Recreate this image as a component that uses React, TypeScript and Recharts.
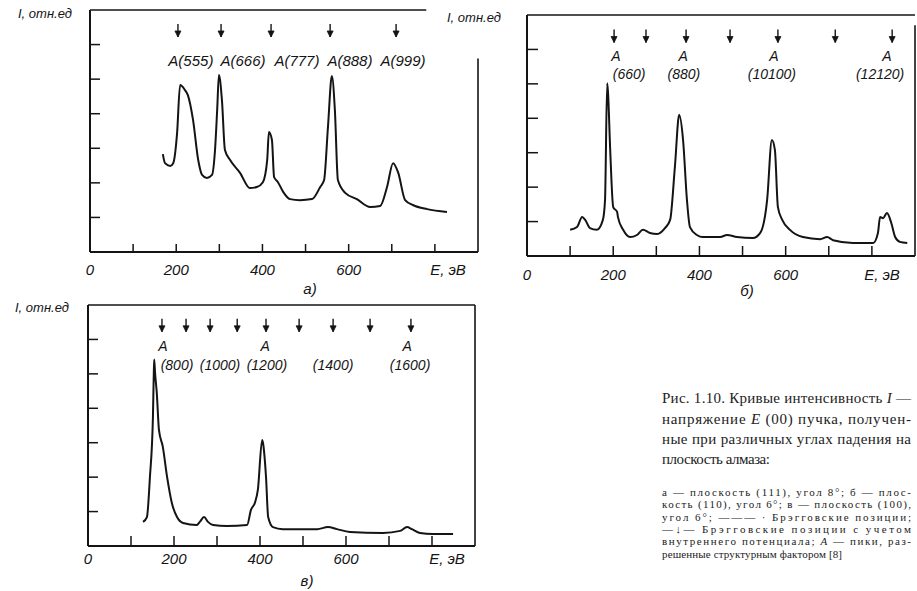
import React from 'react';
import { LineChart, Line, XAxis, YAxis, ReferenceLine, ReferenceDot } from 'recharts';

// ---------- Panel а: plane (111), angle 8° ----------
const aEnergy = [169,174,186,193,202,209,220,227,239,251,260,271,283,290,295,299,306,313,325,348,371,387,401,411,415,422,427,436,448,464,487,515,534,543,552,561,568,575,592,619,650,673,689,703,715,731,749,782,828];
const aIntensity = [2.83,2.57,2.49,2.57,3.44,4.83,4.69,4.54,3.82,2.66,2.23,2.14,2.23,2.95,4.11,5.12,4.40,2.95,2.66,2.29,1.85,1.88,2.02,2.66,3.47,3.24,2.17,2.02,1.74,1.53,1.50,1.53,1.88,2.08,3.62,5.09,4.11,2.08,1.71,1.53,1.30,1.33,1.88,2.57,2.29,1.50,1.36,1.24,1.16];
const aArrows = [204, 304, 420, 557, 710];
const aLabels = ['A(555)', 'A(666)', 'A(777)', 'A(888)', 'A(999)'];
const aLabelE = [234, 355, 480, 603, 726];

// ---------- Panel б: plane (110), angle 6° ----------
const bEnergy = [100,116,128,135,146,162,176,181,186,188,193,200,209,211,223,239,255,269,285,302,320,332,343,353,362,371,378,394,408,448,464,487,524,541,557,568,575,582,592,610,640,680,696,710,756,803,814,819,826,835,845,854,865,882];
const bIntensity = [0.76,0.84,1.13,1.05,0.81,0.76,1.05,1.63,5.02,4.73,3.08,1.42,1.28,1.13,0.76,0.55,0.61,0.76,0.67,0.64,0.81,1.05,2.58,4.10,3.37,1.63,0.84,0.61,0.55,0.55,0.61,0.55,0.52,0.67,1.63,3.37,3.08,1.42,1.05,0.76,0.55,0.49,0.55,0.46,0.38,0.38,0.67,1.13,1.10,1.25,0.96,0.55,0.41,0.38];
const bArrows = [202, 276, 369, 471, 582, 715, 847];
const bAE = [206, 362, 573, 835];
const bHkl = ['(660)', '(880)', '(10100)', '(12120)'];
const bHklE = [237, 364, 568, 819];

// ---------- Panel в: plane (100), angle 6° ----------
const cEnergy = [128,137,144,151,153,154,156,160,165,174,184,195,207,221,253,260,270,279,291,323,370,379,388,395,405,407,414,419,430,453,533,558,579,609,686,726,742,753,772,802,849];
const cIntensity = [0.70,0.84,2.00,3.75,5.02,5.42,5.02,4.44,3.37,2.88,2.00,1.25,0.84,0.67,0.61,0.70,0.84,0.70,0.61,0.58,0.61,1.05,1.25,1.63,3.08,2.99,2.00,0.84,0.55,0.49,0.49,0.55,0.49,0.41,0.38,0.44,0.55,0.49,0.38,0.35,0.35];
const cArrows = [172, 228, 284, 347, 414, 491, 570, 656, 751];
const cAE = [174, 412, 742];
const cHkl = ['(800)', '(1000)', '(1200)', '(1400)', '(1600)'];
const cHklE = [207, 307, 416, 570, 749];

const xTicks = [0, 100, 200, 300, 400, 500, 600, 700, 800];
const xTickText: Record<number, string> = { 0: '0', 200: '200', 400: '400', 600: '600' };
const yTicks = [1, 2, 3, 4, 5, 6];

const INK = '#141414';
const LBL_FONT = '"Liberation Sans", Arial, sans-serif';
const SERIF = '"Liberation Serif", "DejaVu Serif", serif';

const toData = (e: number[], i: number[]) => e.map((v, k) => ({ E: v, I: i[k] }));

const makeXTick = (len: number, labelDy: number) => (props: any) => {
  const { x, y, payload } = props;
  const v = payload.value;
  const t = xTickText[v];
  return (
    <g>
      {v !== 0 && <line x1={x} x2={x} y1={y} y2={y - len} stroke={INK} strokeWidth={1.5} />}
      {t !== undefined && (
        <text x={x} y={y + labelDy} textAnchor="middle" fontFamily={LBL_FONT} fontStyle="italic" fontSize={15} fill={INK}>
          {t}
        </text>
      )}
    </g>
  );
};

const makeYTick = (len: number) => (props: any) => {
  const { x, y } = props;
  return <line x1={x} x2={x + len} y1={y} y2={y} stroke={INK} strokeWidth={1.5} />;
};

const Arrow = (props: any) => {
  const { cx, cy } = props;
  if (cx == null || cy == null) return <g />;
  return (
    <g>
      <line x1={cx} x2={cx} y1={cy - 13} y2={cy} stroke={INK} strokeWidth={1.4} />
      <path d={`M${cx - 3},${cy - 6} L${cx},${cy} L${cx + 3},${cy - 6} Z`} fill={INK} stroke={INK} strokeWidth={0.8} />
    </g>
  );
};

const textShape = (label: string, size: number) => (props: any) => {
  const { cx, cy } = props;
  if (cx == null || cy == null) return <g />;
  return (
    <text x={cx} y={cy} textAnchor="middle" dominantBaseline="central" fontFamily={LBL_FONT} fontStyle="italic" fontSize={size} fill={INK}>
      {label}
    </text>
  );
};

type PanelProps = {
  left: number;
  top: number;
  width: number;
  height: number;
  margin: { top: number; right: number; left: number; bottom: number };
  data: { E: number; I: number }[];
  xTickLen: number;
  yTickLen: number;
  labelDy: number;
  children?: React.ReactNode;
};

function Panel({ left, top, width, height, margin, data, xTickLen, yTickLen, labelDy, children }: PanelProps) {
  return (
    <div style={{ position: 'absolute', left, top, width, height }}>
      <LineChart width={width} height={height} margin={margin}>
        <XAxis
          type="number"
          dataKey="E"
          domain={[0, 900]}
          ticks={xTicks}
          interval={0}
          allowDataOverflow
          height={30}
          tickSize={0}
          tickMargin={0}
          tickLine={false}
          axisLine={{ stroke: INK, strokeWidth: 2 }}
          tick={makeXTick(xTickLen, labelDy)}
        />
        <YAxis
          type="number"
          domain={[0, 7]}
          ticks={yTicks}
          interval={0}
          allowDataOverflow
          width={10}
          tickSize={0}
          tickMargin={0}
          tickLine={false}
          axisLine={{ stroke: INK, strokeWidth: 2 }}
          tick={makeYTick(yTickLen)}
        />
        {children}
        <Line
          data={data}
          dataKey="I"
          type="monotone"
          stroke={INK}
          strokeWidth={2}
          dot={false}
          isAnimationActive={false}
        />
      </LineChart>
    </div>
  );
}

const seg = (x1: number, y1: number, x2: number, y2: number, key: string) => (
  <ReferenceLine
    key={key}
    segment={[{ x: x1, y: y1 }, { x: x2, y: y2 }]}
    stroke={INK}
    strokeWidth={1.6}
    ifOverflow="visible"
  />
);

function Caption() {
  const big = { fontFamily: SERIF, fontSize: 15, fill: '#222' };
  const small = { fontFamily: SERIF, fontSize: 11, fill: '#222' };
  const x0 = 662;
  const w = 249;
  return (
    <svg width={917} height={591} style={{ position: 'absolute', left: 0, top: 0, pointerEvents: 'none' }}>
      {/* axis captions */}
      <text x={18} y={18} fontFamily={LBL_FONT} fontStyle="italic" fontSize={13} fill={INK}>I, отн.ед</text>
      <text x={447} y={22} fontFamily={LBL_FONT} fontStyle="italic" fontSize={13} fill={INK}>I, отн.ед</text>
      <text x={15} y={312} fontFamily={LBL_FONT} fontStyle="italic" fontSize={13} fill={INK}>I, отн.ед</text>
      <text x={448} y={275} textAnchor="middle" fontFamily={LBL_FONT} fontStyle="italic" fontSize={15} fill={INK}>E, эВ</text>
      <text x={882} y={280} textAnchor="middle" fontFamily={LBL_FONT} fontStyle="italic" fontSize={15} fill={INK}>E, эВ</text>
      <text x={447} y={564} textAnchor="middle" fontFamily={LBL_FONT} fontStyle="italic" fontSize={15} fill={INK}>E, эВ</text>
      <text x={310} y={294} textAnchor="middle" fontFamily={LBL_FONT} fontStyle="italic" fontSize={15} fill={INK}>а)</text>
      <text x={747} y={296} textAnchor="middle" fontFamily={LBL_FONT} fontStyle="italic" fontSize={15} fill={INK}>б)</text>
      <text x={307} y={586} textAnchor="middle" fontFamily={LBL_FONT} fontStyle="italic" fontSize={15} fill={INK}>в)</text>

      {/* figure caption */}
      <text x={x0} y={403} {...big} textLength={w} lengthAdjust="spacing">
        Рис. 1.10. Кривые интенсивность <tspan fontStyle="italic">I</tspan> —
      </text>
      <text x={x0} y={424} {...big} textLength={w} lengthAdjust="spacing">
        напряжение <tspan fontStyle="italic">E</tspan> (00)  пучка, получен-
      </text>
      <text x={x0} y={444} {...big} textLength={w} lengthAdjust="spacing">
        ные при различных углах падения на
      </text>
      <text x={x0} y={464} {...big} textLength={108} lengthAdjust="spacing">
        плоскость алмаза:
      </text>

      <text x={x0} y={496} {...small} textLength={w} lengthAdjust="spacing">
        а — плоскость (111), угол 8°; б — плос-
      </text>
      <text x={x0} y={508} {...small} textLength={w} lengthAdjust="spacing">
        кость (110), угол 6°; в — плоскость (100),
      </text>
      <text x={x0} y={521} {...small} textLength={w} lengthAdjust="spacing">
        угол 6°; ——— · Брэгговские позиции;
      </text>
      <text x={x0} y={533} {...small} textLength={w} lengthAdjust="spacing">
        —↓— Брэгговские позиции с учетом
      </text>
      <text x={x0} y={545} {...small} textLength={w} lengthAdjust="spacing">
        внутреннего потенциала; <tspan fontStyle="italic">A</tspan> — пики, раз-
      </text>
      <text x={x0} y={558} {...small} textLength={180} lengthAdjust="spacing">
        решенные структурным фактором [8]
      </text>
    </svg>
  );
}

export default function App() {
  const aData = toData(aEnergy, aIntensity);
  const bData = toData(bEnergy, bIntensity);
  const cData = toData(cEnergy, cIntensity);
  return (
    <div style={{ position: 'absolute', left: 0, top: 0, width: 917, height: 591, overflow: 'hidden', background: '#fff' }}>
      {/* а */}
      <Panel
        left={0}
        top={0}
        width={490}
        height={300}
        margin={{ top: 10, right: 12, left: 80, bottom: 18 }}
        data={aData}
        xTickLen={8}
        yTickLen={10}
        labelDy={23}
      >
        {seg(0, 7, 780, 7, 'top')}
        {seg(900, 5.6, 900, 0, 'right')}
        {aArrows.map((e, k) => (
          <ReferenceDot key={'aa' + k} x={e} y={6.22} r={0} ifOverflow="visible" shape={Arrow} />
        ))}
        {aLabels.map((t, k) => (
          <ReferenceDot key={'al' + k} x={aLabelE[k]} y={5.55} r={0} ifOverflow="visible" shape={textShape(t, 15)} />
        ))}
      </Panel>

      {/* б */}
      <Panel
        left={440}
        top={0}
        width={477}
        height={300}
        margin={{ top: 15, right: 2, left: 77, bottom: 14 }}
        data={bData}
        xTickLen={10}
        yTickLen={11}
        labelDy={24}
      >
        {seg(0, 7, 900, 7, 'top')}
        {seg(900, 6.7, 900, 0, 'right')}
        {bArrows.map((e, k) => (
          <ReferenceDot key={'ba' + k} x={e} y={6.2} r={0} ifOverflow="visible" shape={Arrow} />
        ))}
        {bAE.map((e, k) => (
          <ReferenceDot key={'bA' + k} x={e} y={5.8} r={0} ifOverflow="visible" shape={textShape('A', 14)} />
        ))}
        {bHkl.map((t, k) => (
          <ReferenceDot key={'bh' + k} x={bHklE[k]} y={5.28} r={0} ifOverflow="visible" shape={textShape(t, 14)} />
        ))}
      </Panel>

      {/* в */}
      <Panel
        left={0}
        top={295}
        width={490}
        height={290}
        margin={{ top: 10, right: 15, left: 78, bottom: 9 }}
        data={cData}
        xTickLen={10}
        yTickLen={10}
        labelDy={18}
      >
        {seg(0, 7, 900, 7, 'top')}
        {seg(900, 7, 900, 0, 'right')}
        {cArrows.map((e, k) => (
          <ReferenceDot key={'ca' + k} x={e} y={6.22} r={0} ifOverflow="visible" shape={Arrow} />
        ))}
        {cAE.map((e, k) => (
          <ReferenceDot key={'cA' + k} x={e} y={5.8} r={0} ifOverflow="visible" shape={textShape('A', 14)} />
        ))}
        {cHkl.map((t, k) => (
          <ReferenceDot key={'ch' + k} x={cHklE[k]} y={5.27} r={0} ifOverflow="visible" shape={textShape(t, 14)} />
        ))}
      </Panel>

      <Caption />
    </div>
  );
}
